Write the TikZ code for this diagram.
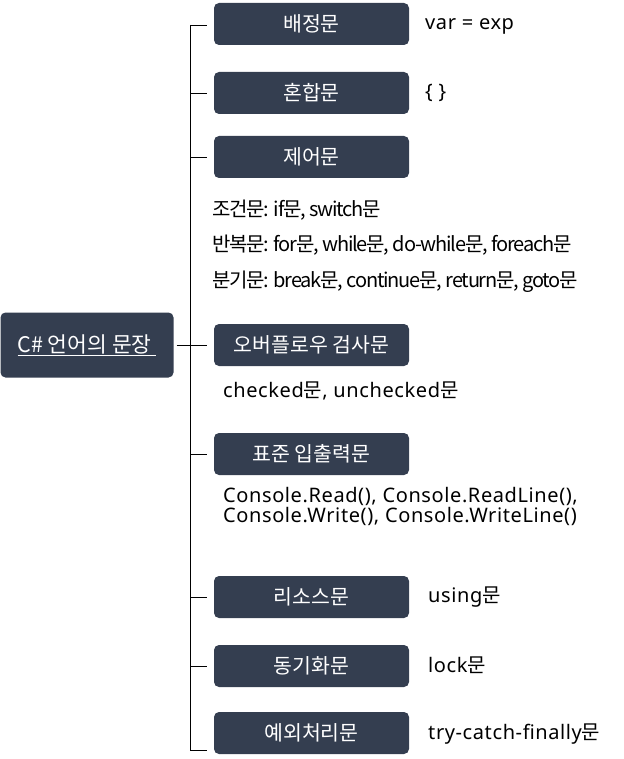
\documentclass[tikz,border=0pt]{standalone}
\usepackage{fontspec}
\setmainfont[LetterSpace=3]{Noto Sans}
\newfontfamily\krfont{Noto Sans CJK KR}
\newfontfamily\tightfont[LetterSpace=-6]{Noto Sans CJK KR}
\newcommand\hg[1]{{\krfont#1}}
\usepackage{tikz}
\definecolor{boxcol}{HTML}{343E50}

\begin{document}
\begin{tikzpicture}[x=1pt,y=-1pt,
    % styles
    group box/.style={fill=boxcol,draw=none,rounded corners=5pt,text=white,
      minimum width=195pt,minimum height=42pt,inner sep=0pt,
      font=\fontsize{20.5}{22}\krfont},
    root box/.style={group box,minimum width=173pt,minimum height=65pt,
      font=\fontsize{21.5}{24}\krfont},
    note/.style={anchor=base west,inner sep=0pt,font=\fontsize{20}{20}\selectfont},
    tight note/.style={note,font=\fontsize{20}{20}\tightfont},
    branch/.style={line width=0.8pt,shorten >=7pt}]

  \useasboundingbox (0,0) rectangle (623,759);

  % root
  \node[root box] (root) at (87,345) {\underline{C\# 언어의 문장\ }};

  % boxes
  \node[group box] (assign) at (311.5,24) {배정문};
  \node[group box] (compound) at (311.5,93) {혼합문};
  \node[group box] (control) at (311.5,157) {제어문};
  \node[group box] (overflow) at (311.5,345) {오버플로우 검사문};
  \node[group box] (stdio) at (311.5,454) {표준 입출력문};
  \node[group box] (resource) at (311.5,597) {리소스문};
  \node[group box] (sync) at (311.5,666) {동기화문};
  \node[group box] (exception) at (311.5,733) {예외처리문};

  % notes
  \node[note] (assignnote) at (425,30) {var = exp};
  \node[note] (compoundnote) at (425,99) {\{ \}};
  \node[tight note] (ifnote) at (212,216) {조건문: if문, switch문};
  \node[tight note] (loopnote) at (212,251) {반복문: for문, while문, do-while문, foreach문};
  \node[tight note] (jumpnote) at (212,287) {분기문: break문, continue문, return문, goto문};
  \node[note] (overflownote) at (223,397) {checked\hg{문}, unchecked\hg{문}};
  \node[note,align=left] (stdionote) at (223,522)
    {Console.Read(), Console.ReadLine(),\\Console.Write(), Console.WriteLine()};
  \node[note] (resourcenote) at (428,602) {using\hg{문}};
  \node[note] (syncnote) at (428,672) {lock\hg{문}};
  \node[note] (exceptionnote) at (428,739) {try-catch-finally\hg{문}};

  % bracket
  \coordinate (top) at (190,25);
  \coordinate (bottom) at (190,750);
  \coordinate (rootend) at (207,345);
  \draw[line width=0.8pt] (top) -- (bottom);
  \draw[line width=0.8pt,shorten <=3pt] (root.east) -- (rootend);
  \draw[branch] (top) -- (assign.west |- top);
  \foreach \b in {compound,control,stdio,resource,sync}
    \draw[branch] (\b.west -| top) -- (\b.west);
  \draw[branch] (bottom) -- (exception.west |- bottom);
\end{tikzpicture}
\end{document}
